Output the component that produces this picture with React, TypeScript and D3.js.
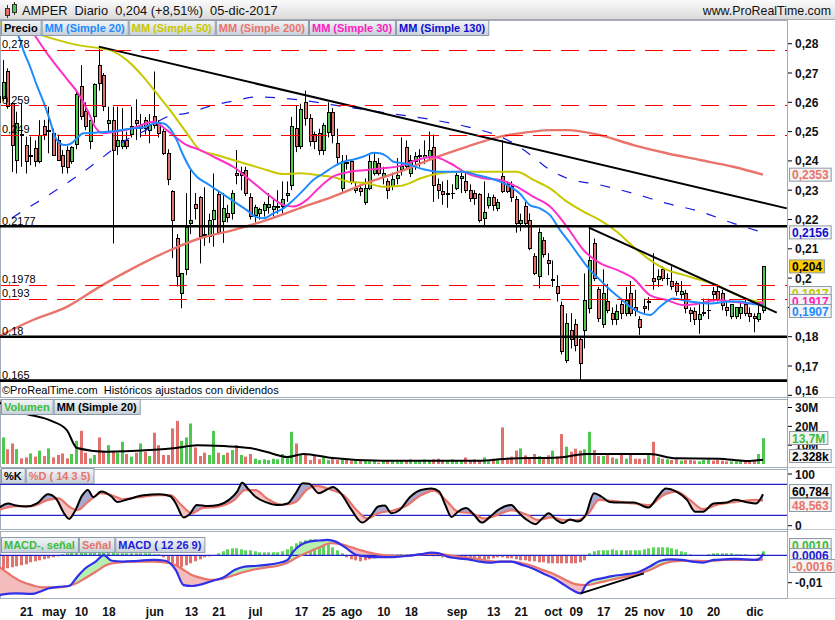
import React, { useEffect, useRef } from "react";
import * as d3 from "d3";

// trading calendar (BME holidays inside the range)
const firstDay = new Date(2017, 3, 11);
const lastDay = new Date(2017, 11, 6);
const holidays = ["2017-04-14", "2017-04-17", "2017-05-01"];

const opens = [
  .2620,.2613,.2705,.2597,.2403,.2490,.2454,.2415,.2443,.2397,
  .2517,.2500,.2494,.2471,.2420,.2435,.2397,.2455,.2655,.2568,
  .2466,.2550,.2727,.2690,.2528,.2539,.2450,.2450,.2471,.2490,
  .2539,.2510,.2539,.2505,.2550,.2530,.2500,.2425,.2295,.2135,
  .1948,.2028,.2187,.2250,.2275,.2150,.2143,.2200,.2287,.2193,
  .2220,.2221,.2357,.2350,.2367,.2275,.2215,.2221,.2230,.2240,
  .2235,.2240,.2244,.2281,.2317,.2510,.2448,.2600,.2545,.2490,
  .2494,.2437,.2497,.2565,.2460,.2306,.2395,.2397,.2300,.2306,
  .2258,.2306,.2357,.2390,.2346,.2330,.2312,.2340,.2370,.2446,
  .2357,.2397,.2415,.2410,.2415,.2446,.2320,.2295,.2287,.2289,
  .2306,.2340,.2330,.2300,.2290,.2286,.2205,.2247,.2275,.2237,
  .2348,.2320,.2312,.2267,.2187,.2244,.2198,.2073,.2005,.2130,
  .2060,.1991,.1970,.1908,.1720,.1820,.1840,.1789,.1820,.1897,
  .2118,.1960,.1840,.1920,.1880,.1860,.1910,.1880,.1948,.1900,
  .1857,.1902,.1918,.2000,.1994,.2030,.1999,.1990,.1980,.1945,
  .1948,.1890,.1885,.1858,.1880,.1890,.1955,.1955,.1948,.1900,
  .1870,.1870,.1880,.1910,.1880,.1870,.1857,.1890,
];
const highs = [
  .2660,.2744,.2716,.2600,.2568,.2597,.2483,.2483,.2470,.2539,
  .2540,.2585,.2510,.2490,.2437,.2450,.2450,.2640,.2727,.2600,
  .2540,.2665,.2790,.2700,.2585,.2585,.2585,.2580,.2500,.2585,
  .2610,.2560,.2550,.2560,.2705,.2540,.2510,.2440,.2300,.2150,
  .2016,.2290,.2370,.2290,.2280,.2310,.2220,.2357,.2300,.2290,
  .2250,.2300,.2437,.2380,.2380,.2290,.2250,.2240,.2260,.2290,
  .2270,.2300,.2330,.2330,.2550,.2590,.2595,.2640,.2560,.2500,
  .2510,.2530,.2600,.2580,.2510,.2420,.2420,.2400,.2330,.2320,
  .2340,.2420,.2430,.2410,.2380,.2340,.2360,.2410,.2480,.2470,
  .2420,.2430,.2440,.2470,.2500,.2490,.2340,.2330,.2335,.2320,
  .2360,.2370,.2360,.2320,.2300,.2290,.2330,.2290,.2285,.2270,
  .2471,.2330,.2330,.2280,.2220,.2260,.2221,.2085,.2170,.2140,
  .2085,.2060,.2010,.1920,.1880,.1880,.1860,.1800,.2016,.2170,
  .2135,.1970,.2030,.1980,.1900,.1910,.1930,.1970,.1990,.1960,
  .1870,.1930,.1935,.2085,.2030,.2040,.2016,.2040,.1990,.1990,
  .1960,.1900,.1900,.1915,.1930,.1930,.1970,.1980,.1960,.1920,
  .1910,.1900,.1920,.1925,.1900,.1880,.1905,.2040,
];
const lows = [
  .2560,.2605,.2578,.2362,.2357,.2380,.2357,.2385,.2380,.2392,
  .2471,.2426,.2420,.2400,.2357,.2357,.2390,.2440,.2540,.2505,
  .2440,.2530,.2640,.2570,.2500,.2118,.2420,.2440,.2440,.2480,
  .2471,.2480,.2490,.2460,.2510,.2480,.2420,.2317,.2068,.1971,
  .1897,.2010,.2150,.2200,.2050,.2110,.2120,.2107,.2150,.2120,
  .2190,.2200,.2320,.2300,.2280,.2200,.2190,.2200,.2210,.2220,
  .2210,.2220,.2220,.2260,.2300,.2430,.2440,.2520,.2450,.2440,
  .2420,.2420,.2480,.2460,.2390,.2295,.2370,.2320,.2290,.2280,
  .2250,.2300,.2350,.2350,.2320,.2270,.2300,.2320,.2350,.2370,
  .2345,.2370,.2380,.2390,.2400,.2260,.2270,.2250,.2240,.2270,
  .2300,.2290,.2290,.2260,.2250,.2190,.2175,.2237,.2230,.2228,
  .2290,.2290,.2260,.2155,.2160,.2180,.2095,.2010,.1965,.2070,
  .2010,.1970,.1920,.1740,.1710,.1760,.1750,.1650,.1760,.1880,
  .1990,.1850,.1830,.1880,.1840,.1840,.1860,.1870,.1870,.1870,
  .1806,.1880,.1890,.1960,.1970,.1990,.1975,.1960,.1940,.1930,
  .1880,.1850,.1840,.1810,.1870,.1860,.1920,.1920,.1890,.1870,
  .1860,.1860,.1860,.1870,.1850,.1815,.1850,.1880,
];
const closes = [
  .2600,.2667,.2585,.2454,.2528,.2487,.2397,.2420,.2397,.2486,
  .2489,.2505,.2420,.2403,.2380,.2378,.2446,.2625,.2550,.2517,
  .2539,.2660,.2665,.2585,.2539,.2437,.2471,.2471,.2450,.2517,
  .2528,.2520,.2510,.2520,.2520,.2495,.2425,.2337,.2198,.2005,
  .2016,.2173,.2198,.2238,.2143,.2145,.2198,.2230,.2155,.2238,
  .2208,.2290,.2350,.2360,.2288,.2210,.2242,.2235,.2250,.2250,
  .2244,.2245,.2267,.2289,.2517,.2448,.2575,.2545,.2465,.2465,
  .2437,.2520,.2565,.2487,.2410,.2397,.2390,.2325,.2306,.2295,
  .2306,.2397,.2397,.2357,.2357,.2300,.2335,.2350,.2380,.2380,
  .2400,.2415,.2420,.2420,.2437,.2315,.2300,.2287,.2289,.2289,
  .2350,.2348,.2300,.2270,.2270,.2198,.2225,.2275,.2247,.2258,
  .2295,.2295,.2275,.2187,.2198,.2187,.2100,.2016,.2155,.2080,
  .2050,.1994,.1948,.1750,.1845,.1789,.1770,.1709,.1925,.2060,
  .1999,.1863,.1948,.1890,.1860,.1885,.1880,.1922,.1880,.1890,
  .1830,.1895,.1920,.1990,.2005,.1999,.2000,.1970,.1955,.1954,
  .1897,.1880,.1860,.1875,.1882,.1890,.1945,.1925,.1905,.1888,
  .1910,.1900,.1900,.1880,.1870,.1862,.1880,.2040,
];
// volume, millions of shares
const volumes = [
  8, 14.1, 7.8, 10.9, 7.9, 3.0, 3.5, 5.6, 3.9, 7.1,
  4.2, 8.3, 3.5, 4.8, 5.6, 3.0, 5.3, 12.3, 17.6, 6.0,
  3.0, 4.8, 14.1, 6.5, 10, 7, 6, 11.8, 5.3, 3.9,
  6, 10.9, 6.5, 4.2, 16.6, 10, 4.8, 4.8, 18.9, 22.9,
  12.3, 14.1, 21.5, 8.8, 4.2, 6, 4.8, 17.6, 6, 4.8,
  6, 7.4, 10, 4.8, 3.9, 5.3, 2.8, 2.1, 2.5, 2.1,
  2.8, 2.5, 5.3, 4.2, 17.1, 10.9, 5.3, 5.3, 2.1, 4.2,
  2.5, 4.2, 2.1, 3.5, 2.1, 2.5, 2.8, 1.8, 1.8, 1.8,
  1.8, 1.4, 1.8, 0.7, 1.4, 2.1, 1.4, 1.2, 1.8, 1.8,
  2.5, 1.4, 2.1, 2.5, 1.8, 2.5, 2.8, 2.1, 1.4, 2.5,
  1.8, 1.8, 3.5, 2.1, 2.5, 1.4, 3.5, 1.4, 2.8, 2.1,
  19.4, 2.5, 3.9, 7.1, 8.3, 4.6, 3.5, 5.3, 4.2, 3.5,
  4.6, 7.1, 3.9, 15.9, 9.2, 6.5, 8.1, 7.1, 7.8, 17.1,
  7.4, 4.2, 4.2, 5.3, 3.5, 2.8, 5.3, 2.8, 5.3, 2.8,
  2.8, 2.8, 5.3, 11.8, 3.5, 2.8, 2.5, 2.1, 2.8, 1.8,
  2.1, 2.1, 1.8, 1.4, 2.1, 2.5, 1.8, 2.1, 1.8, 1.4,
  1.4, 1.4, 2.1, 1.1, 1.1, 1.4, 5.3, 13.7,
];

// moving averages: [bar index, value]
const sma20 = [
  [0, .296], [2.5, .289], [4.8, .2812], [5.5, .2778], [7, .2721], [8.4, .2660], [9.9, .2602],
  [11.3, .2539], [12.4, .2483], [13.5, .2460], [14.6, .2454], [16, .2460], [17.2, .2477],
  [18.6, .2494], [20.8, .2496], [24.4, .2500], [27.3, .2506], [29.5, .2511], [31.7, .2514],
  [34.6, .2530], [36.1, .2528], [37.5, .2511], [39, .2471], [40.4, .2420], [41.9, .2375],
  [43.4, .2346], [45.5, .2324], [47.7, .2301], [49.9, .2278], [52.1, .2255], [54.3, .2232],
  [56.1, .2210], [58, .2204], [60.1, .2221], [62.3, .2238], [64.5, .2267], [66.7, .2301],
  [68.8, .2335], [71, .2357], [73.2, .2380], [75.4, .2397], [77.6, .2405], [79.8, .2415],
  [82, .2428], [83.4, .2426], [84.9, .2415], [86.3, .2397], [88.5, .2392], [93.6, .2369],
  [96.5, .2363], [101.6, .2363], [104.5, .2352], [107.4, .2341], [109.6, .2329], [111.8, .2312],
  [113.9, .2289], [116.1, .2249], [118.3, .2238], [120.5, .2215], [122.7, .2164], [124.9, .2119],
  [127, .2073], [129.2, .2028], [131.4, .1994], [133.6, .1960], [135.8, .1931], [138, .1902],
  [140.2, .1882], [142.3, .1874], [144.5, .1902], [147.4, .1930], [151, .1920], [155.4, .1913],
  [159.8, .1920], [162, .1920], [164.2, .1913], [167, .1907],
];
const sma50 = [
  [0, .2870], [9.1, .2830], [17.2, .2796], [22.3, .2784], [24.4, .2778], [28.1, .2744],
  [31.7, .2687], [34.6, .2631], [37.5, .2574], [41.2, .2495], [44.1, .2437], [47.7, .2420],
  [51.3, .2403], [55, .2386], [58.6, .2369], [62.2, .2355], [65.9, .2358], [69.6, .2352],
  [73.1, .2345], [76.8, .2328], [80.5, .2324], [84, .2312], [87.5, .2314], [90, .2325],
  [92.1, .2340], [96.5, .2358], [100.9, .2363], [109.6, .2363], [113.2, .2363], [116.9, .2335],
  [120.5, .2306], [124.2, .2261], [127.8, .2227], [131.4, .2198], [135.1, .2158], [138.7, .2107],
  [142.3, .2062], [146, .2028], [149.6, .2011], [153.3, .1994], [156.9, .1976], [160.5, .1948],
  [164.2, .1925], [167, .1917],
];
const sma200 = [
  [0, .1800], [7.6, .1857], [15, .1902], [22.2, .1971], [29.5, .2034], [36.8, .2090],
  [44.1, .2136], [51.3, .2164], [58.6, .2198], [65.9, .2239], [73.1, .2278], [80.5, .2325],
  [87.8, .2364], [95, .2409], [102.3, .2448], [109.6, .2483], [116.8, .2500], [120.5, .2505],
  [124.2, .2505], [131.4, .2488], [138.7, .2454], [146, .2426], [153.3, .2403], [160.5, .2380],
  [167, .2353],
];
const sma30 = [
  [0, .300], [7.5, .2840], [11, .2760], [15, .2680], [17.5, .2630], [19.6, .2570],
  [21.2, .2515], [23, .2495], [25.9, .2500], [29.5, .2512], [33.9, .2534], [36.8, .2505],
  [41.2, .2454], [44.1, .2437], [47.7, .2409], [51.3, .2380], [55, .2335], [58.6, .2289],
  [62.2, .2250], [64.4, .2244], [67.4, .2267], [69.6, .2301], [73.1, .2346], [76.8, .2363],
  [80.5, .2369], [84, .2375], [87.8, .2383], [91.4, .2403], [95, .2414], [98.7, .2392],
  [102.3, .2358], [105.9, .2341], [109.6, .2335], [113.2, .2312], [116.8, .2278], [120.5, .2244],
  [124.2, .2175], [127.8, .2096], [131.4, .2051], [135.1, .2028], [138.7, .1999], [142.3, .1942],
  [146, .1925], [149.6, .1908], [153.3, .1914], [156.9, .1925], [160.5, .1919], [164.2, .1914],
  [167, .1917],
];
const sma130 = [
  [3, .2205], [5.5, .2230], [10.3, .2276], [14.6, .2320], [18.9, .2366], [23.3, .2418],
  [27.6, .2468], [31.7, .2500], [36.8, .2550], [41.3, .2563], [46.5, .2588], [51.5, .2605],
  [56.5, .2618], [65.9, .2608], [73.1, .2591], [80.5, .2574], [87.8, .2557], [95, .2540],
  [102.3, .2517], [109.6, .2483], [113.2, .2454], [116.8, .2414], [120.5, .2369], [124.2, .2341],
  [131.4, .2318], [138.7, .2289], [146, .2255], [153.3, .2227], [160.5, .2187], [167, .2156],
];

const dashedLevels = [0.278, 0.259, 0.249, 0.1978, 0.193];
const solidLevels = [0.2177, 0.18, 0.165];
const trendLines = [
  [[22, 0.2790], [172.2, 0.2238]],
  [[129, 0.2172], [170, 0.1882]],
];
const priceTicks = [0.28, 0.27, 0.26, 0.25, 0.24, 0.23, 0.22, 0.21, 0.2, 0.19, 0.18, 0.17, 0.16];

// volume MA(20), millions
const volMa = [
  [0, 33], [5, 27.5], [11.5, 23], [15, 18], [17.2, 8.5], [23.7, 6.5], [33, 7.4], [38.8, 8.5],
  [43.4, 10], [49.3, 9.5], [55, 8.5], [58.5, 6.5], [63.2, 3.7], [66.7, 5.3], [72.5, 3.3],
  [84, 1.7], [105, 1.7], [111, 2.8], [122.5, 3.5], [128.4, 5.3], [142.3, 5.3], [148, 3.0],
  [157.4, 2.8], [163.2, 1.6], [167, 2.3],
];
const volTicks = [30, 20, 10];

// stochastic %K / %D
const stochK = [
  [0, 33.5], [2.2, 43], [3.9, 39], [6.2, 37], [8.5, 43], [10.9, 61], [12.6, 53], [14.4, 24],
  [15.5, 13], [16.7, 27], [18.4, 59], [19.6, 69], [20.8, 55], [22.5, 66], [24.8, 56], [26, 46],
  [28.3, 51], [31.8, 59], [35.3, 61], [37.6, 57], [38.8, 43], [40.5, 16], [41.7, 21], [43.4, 40],
  [45.8, 38], [48.1, 40], [50.4, 50], [52.2, 66], [53.3, 83], [54.5, 72], [56.2, 56], [58.6, 45],
  [60.9, 40], [63.2, 43], [65, 63], [66.5, 82], [67.9, 81], [70, 63], [71.6, 69], [73.1, 75],
  [74.8, 63], [77.2, 30], [79.5, 6], [81.2, 17], [83, 37], [84.4, 39], [85.9, 24], [87.6, 30],
  [90, 56], [92.3, 69], [94.6, 72], [96.3, 66], [97.5, 43], [99, 17], [100.4, 27], [102.2, 34],
  [103.9, 21], [105.6, 6], [107.4, 17], [109.1, 30], [112, 40], [113.8, 24], [115.5, 11],
  [117.3, 3], [118.8, 14], [120.2, 24], [121.9, 11], [123.4, 5], [124.8, 12], [126.6, 8],
  [128.3, 21], [130.1, 63], [131.8, 56], [133.5, 46], [135.9, 45], [138.8, 45], [142, 35],
  [144, 56], [145.8, 72], [148.1, 66], [150.4, 50], [152.2, 27], [153.9, 27], [156.2, 43],
  [159.1, 45], [160.9, 50], [163.2, 46], [165.5, 43], [167, 60.8],
];
const stochD = [
  [0, 30], [3.9, 38], [7.4, 38], [10.9, 50], [13.2, 53], [15.5, 37], [17.3, 30], [19.6, 46],
  [22.5, 63], [24.8, 59], [27.2, 51], [30.6, 55], [35.3, 59], [37.6, 59], [40, 40], [42.3, 24],
  [44.6, 34], [48.1, 37], [51.6, 50], [53.9, 69], [56.2, 69], [58.6, 53], [62, 40], [65, 46],
  [67.3, 69], [69.6, 77], [72.5, 70], [75.4, 59], [78.3, 30], [80.6, 14], [83, 24], [86.5, 30],
  [88.8, 37], [92.3, 59], [95.2, 68], [98.1, 46], [100.4, 27], [103.3, 24], [106.2, 14],
  [109.1, 21], [112, 30], [115.5, 21], [117.9, 11], [120.8, 16], [123.7, 11], [126.6, 11],
  [128.9, 24], [131.2, 50], [134.1, 48], [138.8, 43], [142.3, 40], [145.2, 59], [148.1, 66],
  [151, 50], [153.9, 32], [156.8, 40], [160.9, 46], [165.5, 50], [167, 48.6],
];
const stochTicks = [100, 0];
const stochBands = [80, 20];

// MACD (12 26 9)
const macdLine = [
  [0, -.0145], [3.9, -.0139], [7.4, -.0141], [9.1, -.0133], [10.9, -.0121], [13.2, -.0115],
  [15.5, -.0112], [17.3, -.0078], [19, -.0048], [21.3, -.0023], [23.1, .0001], [24.8, -.0020],
  [27.2, -.0023], [30.6, -.0020], [34.1, -.0017], [36.5, -.0020], [38.8, -.0054], [40.5, -.0109],
  [42.3, -.0112], [44.6, -.0105], [46.9, -.0093], [49.3, -.0080], [51.6, -.0054], [53.9, -.0041],
  [56.2, -.0039], [58.6, -.0035], [60.9, -.0029], [63.2, -.0017], [64.4, .0013], [66.1, .0038],
  [67.9, .0050], [70.2, .0054], [71.9, .0056], [73.7, .0050], [76, .0026], [78.3, .0001],
  [80.6, -.0005], [83, -.0007], [85.3, -.0007], [87.6, -.0005], [89.9, -.0001], [92.3, .0004],
  [94.6, .0010], [96.3, .0007], [98.1, -.0005], [100.4, -.0011], [102.7, -.0015], [105.1, -.0023],
  [107.4, -.0027], [109.7, -.0023], [112, -.0023], [114.4, -.0035], [116.7, -.0048], [119, -.0066],
  [121.3, -.0084], [123.7, -.0109], [125.4, -.0127], [127.2, -.0139], [128.3, -.0109],
  [129.5, -.0093], [131.8, -.0084], [134.1, -.0076], [137.6, -.0068], [140, -.0060],
  [142.3, -.0041], [144.6, -.0020], [146.9, -.0015], [149.3, -.0017], [151.6, -.0023],
  [153.9, -.0027], [156.2, -.0017], [158.5, -.0015], [160.9, -.0013], [163.2, -.0015],
  [165.5, -.0017], [166.7, -.0005], [167, .0006],
];
const macdSignal = [
  [0, -.0039], [2.7, -.0072], [5.1, -.0096], [7.4, -.0109], [9.7, -.0117], [12, -.0117],
  [14.4, -.0115], [16.7, -.0105], [19, -.0084], [21.3, -.0060], [23.7, -.0035], [26, -.0027],
  [29.5, -.0023], [34.1, -.0023], [37.6, -.0029], [40, -.0048], [42.3, -.0072], [44.6, -.0084],
  [46.9, -.0090], [49.3, -.0084], [51.6, -.0072], [53.9, -.0060], [56.2, -.0051], [58.6, -.0044],
  [60.9, -.0039], [63.2, -.0027], [65.5, -.0005], [67.9, .0013], [70.2, .0029], [72.5, .0044],
  [74.8, .0041], [77.2, .0029], [79.5, .0017], [81.8, .0007], [84.1, .0001], [86.5, -.0002],
  [88.8, -.0002], [91.1, .0001], [93.4, .0005], [95.8, .0005], [98.1, .0001], [100.4, -.0005],
  [102.7, -.0009], [105.1, -.0015], [107.4, -.0021], [109.7, -.0023], [112, -.0023],
  [114.4, -.0029], [116.7, -.0039], [119, -.0054], [121.3, -.0068], [123.7, -.0088],
  [126, -.0105], [128.3, -.0109], [130.6, -.0102], [133, -.0093], [135.3, -.0084],
  [137.6, -.0076], [140, -.0066], [142.3, -.0054], [144.6, -.0035], [146.9, -.0023],
  [149.3, -.0020], [151.6, -.0020], [153.9, -.0021], [156.2, -.0020], [158.5, -.0017],
  [163.2, -.0017], [167, -.0016],
];
const macdHist = [
  -.0015,-.0014,-.0013,-.0012,-.0011,-.0010,-.0009,-.0007,-.0006,-.0005,
  -.0004,-.0003,-.0002,-.0001,.0001,.0002,.0003,.0003,.0003,.0004,
  .0004,.0003,.0004,.0003,.0003,.0003,.0002,.0002,.0002,.0002,
  .0002,.0002,.0002,.0002,.0001,.0001,-.0002,-.0006,-.0010,-.0013,
  -.0012,-.0010,-.0008,-.0006,-.0004,-.0002,-.0001,0,.0002,.0004,
  .0006,.0007,.0007,.0006,.0005,.0005,.0004,.0003,.0003,.0003,
  .0003,.0003,.0004,.0006,.0009,.0012,.0014,.0015,.0016,.0016,
  .0015,.0013,.0011,.0008,.0005,.0002,-.0002,-.0004,-.0005,-.0006,
  -.0005,-.0004,-.0003,-.0002,-.0001,0,.0001,.0001,.0001,.0001,
  .0001,.0001,.0001,0,0,-.0001,-.0001,-.0002,-.0002,-.0002,
  -.0002,-.0003,-.0003,-.0004,-.0004,-.0005,-.0005,-.0004,-.0003,-.0002,
  -.0002,-.0003,-.0003,-.0004,-.0005,-.0005,-.0006,-.0006,-.0007,-.0007,
  -.0008,-.0008,-.0008,-.0008,-.0008,-.0008,-.0008,-.0007,-.0005,.0002,
  .0004,.0005,.0005,.0005,.0006,.0005,.0005,.0005,.0005,.0005,
  .0005,.0006,.0007,.0008,.0008,.0008,.0008,.0007,.0006,.0004,
  .0003,.0001,0,0,0,.0001,.0002,.0002,.0002,.0002,
  .0002,.0001,.0001,.0001,0,0,.0001,.0004,
];
const macdTrend = [[127.2, -.0139], [141, -.0066]];
const macdTicks = [-0.01];

const tickDates = [
  "2017-04-21", "2017-05-02", "2017-05-10", "2017-05-18", "2017-06-01", "2017-06-13",
  "2017-06-21", "2017-07-03", "2017-07-17", "2017-07-25", "2017-08-01", "2017-08-10",
  "2017-08-18", "2017-09-01", "2017-09-13", "2017-09-21", "2017-10-02", "2017-10-09",
  "2017-10-17", "2017-10-25", "2017-11-01", "2017-11-10", "2017-11-20", "2017-12-01",
];
const tickLabels = [
  "21", "may", "10", "18", "jun", "13", "21", "jul", "17", "25", "ago", "10",
  "18", "sep", "13", "21", "oct", "09", "17", "25", "nov", "10", "20", "dic",
];

const FONT = "Arial, 'Liberation Sans', Helvetica, sans-serif";
const UP = "#4fc84f";
const DOWN = "#e2706c";
const AX = 787;

export default function App() {
  const ref = useRef<SVGSVGElement>(null);

  useEffect(() => {
    const svg = d3.select(ref.current);
    svg.selectAll("*").remove();
    svg.style("font-family", FONT);

    const fmtDay = d3.timeFormat("%Y-%m-%d");
    const days = d3.timeDay.range(firstDay, lastDay)
      .filter(d => d.getDay() !== 0 && d.getDay() !== 6 && !holidays.includes(fmtDay(d)))
      .map(fmtDay);
    const n = closes.length;

    const xi = d3.scaleLinear().domain([0, n - 1]).range([-1.9, 763]);
    const yP = d3.scaleLinear().domain([0.16, 0.28]).range([395.3, 43.7]);
    const yV = d3.scaleLinear().domain([0, 30]).range([464, 407.5]);
    const yS = d3.scaleLinear().domain([0, 100]).range([525.7, 474]);
    const yM = d3.scaleLinear().domain([-0.01, 0]).range([582.7, 555.3]);
    const yH = d3.scaleLinear().domain([0, 0.001]).range([555.3, 545.3]);
    const comma = (v: number, dec: number) => v.toFixed(dec).replace(".", ",");

    const defs = svg.append("defs");
    const grad = defs.append("linearGradient").attr("id", "hdr").attr("x1", 0).attr("y1", 0).attr("x2", 0).attr("y2", 1);
    grad.append("stop").attr("offset", 0).attr("stop-color", "#fbfbfb");
    grad.append("stop").attr("offset", 1).attr("stop-color", "#d9d9d9");
    const tg = defs.append("linearGradient").attr("id", "tab").attr("x1", 0).attr("y1", 0).attr("x2", 0).attr("y2", 1);
    tg.append("stop").attr("offset", 0).attr("stop-color", "#f4f6f8");
    tg.append("stop").attr("offset", 1).attr("stop-color", "#c8d0d8");

    const clip = (id: string, x: number, y: number, w: number, h: number) =>
      defs.append("clipPath").attr("id", id).append("rect").attr("x", x).attr("y", y).attr("width", w).attr("height", h);
    clip("cP", 0, 20, AX, 377);
    clip("cV", 0, 399, AX, 68);
    clip("cS", 0, 469, AX, 60);
    clip("cM", 0, 531, AX, 67);

    svg.append("rect").attr("width", 835).attr("height", 620).attr("fill", "#fff");

    // header
    svg.append("rect").attr("width", 835).attr("height", 20).attr("fill", "url(#hdr)");
    svg.append("line").attr("x1", 0).attr("x2", 835).attr("y1", 19.5).attr("y2", 19.5).attr("stroke", "#a8a8a8");
    svg.append("line").attr("x1", 7.5).attr("x2", 7.5).attr("y1", 5).attr("y2", 18).attr("stroke", "#333");
    svg.append("rect").attr("x", 5.5).attr("y", 8.5).attr("width", 4).attr("height", 7).attr("fill", DOWN).attr("stroke", "#333");
    svg.append("line").attr("x1", 14.5).attr("x2", 14.5).attr("y1", 2).attr("y2", 15).attr("stroke", "#333");
    svg.append("rect").attr("x", 12.5).attr("y", 4.5).attr("width", 4).attr("height", 8).attr("fill", UP).attr("stroke", "#333");
    svg.append("text").attr("x", 22).attr("y", 15).style("white-space", "pre").attr("font-size", 12.8).attr("fill", "#111")
      .text("AMPER  Diario  0,204 (+8,51%)  05-dic-2017");
    svg.append("text").attr("x", 831).attr("y", 15).attr("text-anchor", "end").attr("font-size", 12.4).attr("fill", "#111")
      .text("www.ProRealTime.com");

    // panel frames
    const panels = [[20, 397], [399, 467], [469, 529], [531, 598]];
    panels.forEach(([t, b]) => {
      svg.append("rect").attr("x", 0.5).attr("y", t + 0.5).attr("width", AX).attr("height", b - t)
        .attr("fill", "#fff").attr("stroke", "#a3adb8");
      svg.append("line").attr("x1", AX).attr("x2", 835).attr("y1", b + 0.5).attr("y2", b + 0.5).attr("stroke", "#c4cad0");
    });

    const lineOf = (ys: any) => d3.line<number[]>().x(d => xi(d[0])).y(d => ys(d[1])).curve(d3.curveMonotoneX);
    const idx = d3.range(n);

    // ---- price panel ----
    const gP = svg.append("g").attr("clip-path", "url(#cP)");
    gP.selectAll("line.wick").data(idx).join("line")
      .attr("x1", i => Math.round(xi(i)) + 0.5).attr("x2", i => Math.round(xi(i)) + 0.5)
      .attr("y1", i => yP(highs[i])).attr("y2", i => yP(lows[i]))
      .attr("stroke", "#000").attr("stroke-width", 1);
    gP.selectAll("rect.body").data(idx).join("rect")
      .attr("x", i => Math.round(xi(i)) - 1)
      .attr("y", i => yP(Math.max(opens[i], closes[i])))
      .attr("width", 3)
      .attr("height", i => Math.max(0.01, Math.abs(yP(opens[i]) - yP(closes[i]))))
      .attr("fill", i => (closes[i] >= opens[i] ? UP : DOWN))
      .attr("stroke", "#000").attr("stroke-width", 1).attr("shape-rendering", "crispEdges");

    const maStyles: [number[][], string, number, string | null][] = [
      [sma200, "#e8746c", 2.4, null],
      [sma130, "#1c1ce0", 1.2, "10,12"],
      [sma50, "#c8c800", 2, null],
      [sma30, "#ff30c8", 2, null],
      [sma20, "#1e8cff", 2, null],
    ];
    maStyles.forEach(([pts, col, w, dash]) => {
      gP.append("path").attr("d", lineOf(yP)(pts)).attr("fill", "none")
        .attr("stroke", col).attr("stroke-width", w).attr("stroke-dasharray", dash);
    });
    trendLines.forEach(seg => {
      gP.append("path").attr("d", d3.line<number[]>().x(d => xi(d[0])).y(d => yP(d[1]))(seg))
        .attr("stroke", "#000").attr("stroke-width", 2).attr("fill", "none");
    });
    dashedLevels.forEach(v => {
      gP.append("line").attr("x1", 1).attr("x2", AX).attr("y1", Math.round(yP(v)) + 0.5).attr("y2", Math.round(yP(v)) + 0.5)
        .attr("stroke", "#ff0000").attr("stroke-width", 1.2).attr("stroke-dasharray", "18,10")
        .attr("shape-rendering", "crispEdges");
    });
    solidLevels.forEach(v => {
      gP.append("line").attr("x1", 0).attr("x2", AX).attr("y1", yP(v)).attr("y2", yP(v))
        .attr("stroke", "#000").attr("stroke-width", 2.6);
    });
    [...dashedLevels, ...solidLevels].forEach(v => {
      svg.append("text").attr("x", 2).attr("y", yP(v) - 1.5).attr("font-size", 11).attr("fill", "#000")
        .text(String(v).replace(".", ","));
    });
    svg.append("text").attr("x", 2).attr("y", 394).attr("font-size", 11).attr("fill", "#000")
      .text("©ProRealTime.com  Históricos ajustados con dividendos").style("white-space", "pre");

    // ---- volume panel ----
    const gV = svg.append("g").attr("clip-path", "url(#cV)");
    gV.selectAll("rect").data(idx).join("rect")
      .attr("x", i => Math.round(xi(i)) - 1).attr("width", 3)
      .attr("y", i => yV(volumes[i])).attr("height", i => yV(0) - yV(volumes[i]))
      .attr("fill", i => (closes[i] >= opens[i] ? UP : DOWN));
    gV.append("path").attr("d", lineOf(yV)(volMa)).attr("fill", "none").attr("stroke", "#000").attr("stroke-width", 2);

    // ---- stochastic panel ----
    const gS = svg.append("g").attr("clip-path", "url(#cS)");
    stochBands.forEach(v => {
      gS.append("line").attr("x1", 0).attr("x2", AX).attr("y1", yS(v)).attr("y2", yS(v)).attr("stroke", "#2020c8").attr("stroke-width", 1.2);
    });
    const areaClip = (id: string, pts: number[][], ys: any, edge: number) =>
      defs.append("clipPath").attr("id", id).append("path")
        .attr("d", d3.area<number[]>().x(d => xi(d[0])).y0(edge).y1(d => ys(d[1])).curve(d3.curveMonotoneX)(pts));
    areaClip("sAbove", stochD, yS, 469);
    areaClip("sBelow", stochD, yS, 529);
    gS.append("path").attr("clip-path", "url(#sAbove)")
      .attr("d", d3.area<number[]>().x(d => xi(d[0])).y0(529).y1(d => yS(d[1])).curve(d3.curveMonotoneX)(stochK))
      .attr("fill", "#a9a9cf");
    gS.append("path").attr("clip-path", "url(#sBelow)")
      .attr("d", d3.area<number[]>().x(d => xi(d[0])).y0(469).y1(d => yS(d[1])).curve(d3.curveMonotoneX)(stochK))
      .attr("fill", "#f4c4c2");
    gS.append("path").attr("d", lineOf(yS)(stochD)).attr("fill", "none").attr("stroke", "#e8746c").attr("stroke-width", 2.2);
    gS.append("path").attr("d", lineOf(yS)(stochK)).attr("fill", "none").attr("stroke", "#000").attr("stroke-width", 2);

    // ---- MACD panel ----
    const gM = svg.append("g").attr("clip-path", "url(#cM)");
    gM.selectAll("rect").data(idx).join("rect")
      .attr("x", i => Math.round(xi(i)) - 1).attr("width", 3)
      .attr("y", i => Math.min(yH(macdHist[i]), yH(0)))
      .attr("height", i => Math.abs(yH(macdHist[i]) - yH(0)))
      .attr("fill", i => (macdHist[i] >= 0 ? "#5bd65b" : DOWN));
    areaClip("mAbove", macdSignal, yM, 531);
    areaClip("mBelow", macdSignal, yM, 598);
    gM.append("path").attr("clip-path", "url(#mAbove)")
      .attr("d", d3.area<number[]>().x(d => xi(d[0])).y0(598).y1(d => yM(d[1])).curve(d3.curveMonotoneX)(macdLine))
      .attr("fill", "#b6efb0");
    gM.append("path").attr("clip-path", "url(#mBelow)")
      .attr("d", d3.area<number[]>().x(d => xi(d[0])).y0(531).y1(d => yM(d[1])).curve(d3.curveMonotoneX)(macdLine))
      .attr("fill", "#f4bcbc");
    gM.append("line").attr("x1", 0).attr("x2", AX).attr("y1", yM(0)).attr("y2", yM(0)).attr("stroke", "#2020c8").attr("stroke-width", 1.2);
    gM.append("path").attr("d", lineOf(yM)(macdSignal)).attr("fill", "none").attr("stroke", "#e8746c").attr("stroke-width", 2.2);
    gM.append("path").attr("d", lineOf(yM)(macdLine)).attr("fill", "none").attr("stroke", "#3030e8").attr("stroke-width", 2.2);
    gM.append("path").attr("d", d3.line<number[]>().x(d => xi(d[0])).y(d => yM(d[1]))(macdTrend))
      .attr("stroke", "#000").attr("stroke-width", 2).attr("fill", "none");

    // ---- tabs ----
    const tabs = (y: number, items: [string, string][]) => {
      let x = 1;
      items.forEach(([label, col]) => {
        const g = svg.append("g");
        const r = g.append("rect").attr("y", y + 0.5).attr("height", 15).attr("fill", "url(#tab)").attr("stroke", "#8c9bab");
        const t = g.append("text").attr("x", x + 3).attr("y", y + 12).attr("font-size", 11).attr("font-weight", "bold")
          .attr("fill", col).text(label);
        const w = (t.node() as SVGTextElement).getComputedTextLength() + 6;
        r.attr("x", x + 0.5).attr("width", w);
        x += w + 1;
      });
    };
    tabs(20, [["Precio", "#000"], ["MM (Simple 20)", "#1e8cff"], ["MM (Simple 50)", "#c8c800"],
      ["MM (Simple 200)", "#e8746c"], ["MM (Simple 30)", "#ff20c0"], ["MM (Simple 130)", "#1010d0"]]);
    tabs(399, [["Volumen", "#3cbc3c"], ["MM (Simple 20)", "#000"]]);
    tabs(468, [["%K", "#000"], ["%D ( 14 3 5)", "#e8746c"]]);
    tabs(537, [["MACD-, señal", "#3cbc3c"], ["Señal", "#e8746c"], ["MACD ( 12 26 9)", "#2020d8"]]);

    // ---- right axis ----
    svg.append("line").attr("x1", AX + 0.5).attr("x2", AX + 0.5).attr("y1", 20).attr("y2", 598).attr("stroke", "#a3adb8");
    const axisLabel = (y: number, text: string, ly?: number) => {
      svg.append("line").attr("x1", AX + 1).attr("x2", AX + 5).attr("y1", y).attr("y2", y).attr("stroke", "#000");
      svg.append("text").attr("x", AX + 8).attr("y", (ly ?? y) + 4.5).attr("font-size", 12).attr("font-weight", "bold")
        .attr("fill", "#111").text(text);
    };
    priceTicks.forEach(v => axisLabel(yP(v), comma(v, 2).replace(/0$/, ""), Math.min(yP(v), 390)));
    volTicks.forEach(v => axisLabel(yV(v), `${v}M`));
    stochTicks.forEach(v => axisLabel(yS(v), String(v)));
    macdTicks.forEach(v => axisLabel(yM(v), comma(v, 2)));

    const box = (cy: number, text: string, col: string, fill = "#f3f3f3") => {
      const g = svg.append("g");
      const r = g.append("rect").attr("x", AX + 2.5).attr("y", cy - 6.5).attr("height", 13).attr("fill", fill)
        .attr("stroke", "#8e9ca8");
      const t = g.append("text").attr("x", AX + 5).attr("y", cy + 4.5).attr("font-size", 12).attr("font-weight", "bold")
        .attr("fill", col).text(text);
      r.attr("width", (t.node() as SVGTextElement).getComputedTextLength() + 5);
    };
    const lastOf = (a: number[][]) => a[a.length - 1][1];
    box(yP(lastOf(sma200)), comma(lastOf(sma200), 4), "#e8746c");
    box(yP(lastOf(sma130)), comma(lastOf(sma130), 4), "#1010d0");
    box(yP(closes[n - 1]), comma(closes[n - 1], 3), "#000", "#ffcc00");
    box(293, comma(lastOf(sma50), 4), "#c8c800");
    box(301, comma(lastOf(sma30), 4), "#ff20c0");
    box(311, comma(lastOf(sma20), 4), "#1e8cff");
    box(438, comma(volumes[n - 1], 1) + "M", "#3cbc3c");
    box(456, "2.328k", "#000");
    box(491, "60,784", "#000");
    box(505, "48,563", "#e8746c");
    box(545, "0,0010", "#3cbc3c");
    box(555, "0,0006", "#2020d8");
    box(566, "-0,0016", "#e8746c");

    // ---- date axis ----
    tickDates.forEach((d, k) => {
      const i = days.indexOf(d);
      if (i < 0) return;
      svg.append("text").attr("x", xi(i) + 1).attr("y", 616).attr("text-anchor", "middle")
        .attr("font-size", 12).attr("font-weight", "bold").attr("fill", "#111").text(tickLabels[k]);
    });
  }, []);

  return <svg ref={ref} width={835} height={620} style={{ position: "absolute", left: 0, top: 0 }} />;
}
